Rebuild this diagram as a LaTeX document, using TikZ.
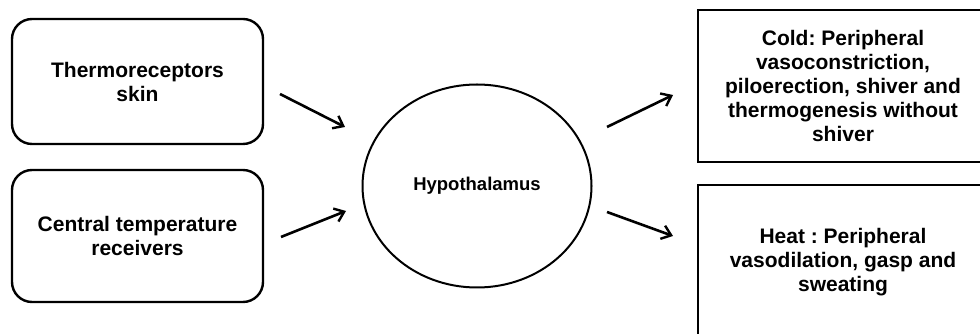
\documentclass[tikz,border=0pt]{standalone}
\usepackage{fontspec}
\setmainfont{Liberation Sans}
\usepackage{xcolor}
\usetikzlibrary{arrows.meta,positioning,shapes.geometric}
\definecolor{Ink}{HTML}{000000}
\frenchspacing
\tikzset{
  sensor/.style={rounded corners=20pt,draw=Ink,line width=2.4pt,fill=white,minimum width=251pt,align=center,font=\fontsize{21}{24}\selectfont\bfseries},
  centre/.style={ellipse,draw=Ink,line width=2pt,minimum width=229pt,minimum height=203pt,inner sep=0pt,font=\fontsize{18.5}{22}\selectfont\bfseries},
  response/.style={draw=Ink,line width=2.4pt,fill=white,minimum width=290pt,align=center,font=\fontsize{21}{24}\selectfont\bfseries},
  arrow/.style={-{Straight Barb[length=9pt,width=14pt,line width=2.4pt]},line width=2.6pt,draw=Ink}
}
\begin{document}
\begin{tikzpicture}[x=1pt,y=1pt]
  \clip (0,0) rectangle (980,334);
  \fill[white] (0,0) rectangle (980,334);
  \node[sensor,minimum height=125pt] (skin) at (137.5,252.5) {Thermoreceptors\\skin};
  \node[sensor,minimum height=132pt] (core) at (137.5,98) {Central temperature\\receivers};
  \node[centre] (hypo) at (477,148) {Hypothalamus};
  \node[response,minimum height=152pt] (cold) at (843,248) {Cold: Peripheral\\vasoconstriction,\\piloerection, shiver and\\thermogenesis without\\shiver};
  \node[response,minimum height=154pt] (heat) at (843,72) {Heat : Peripheral\\vasodilation, gasp and\\sweating};
  % free arrow ends
  \coordinate (skinout) at (280,240);
  \coordinate (skinin) at (345,207);
  \coordinate (coreout) at (281,97);
  \coordinate (corein) at (346,123);
  \coordinate (coldout) at (607,207);
  \coordinate (coldin) at (673,239);
  \coordinate (heatout) at (607,122);
  \coordinate (heatin) at (673,98);
  \draw[arrow] (skinout)--(skinin);
  \draw[arrow] (coreout)--(corein);
  \draw[arrow] (coldout)--(coldin);
  \draw[arrow] (heatout)--(heatin);
\end{tikzpicture}
\end{document}
